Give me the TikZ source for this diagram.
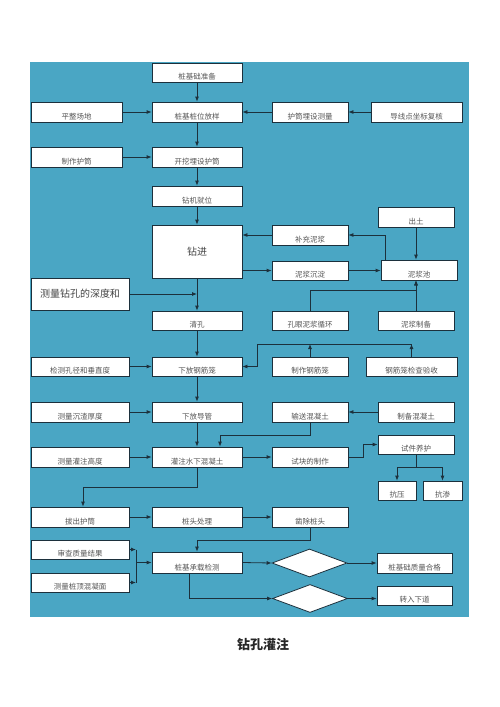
\documentclass[tikz,border=0pt]{standalone}
\usepackage{fontspec}
\newfontfamily\cjk{Noto Sans CJK SC}
\usetikzlibrary{shapes.geometric,arrows.meta,calc}
\definecolor{bg}{RGB}{74,166,196}
\definecolor{lnc}{RGB}{28,48,60}
\definecolor{tx}{RGB}{85,85,85}
\tikzset{
 box/.style={draw=lnc, fill=white, line width=0.8pt, inner sep=0pt, rectangle},
 lbl/.style={font=\cjk\fontsize{7.5}{8}\selectfont, text=tx, inner sep=0pt, anchor=base},
 big/.style={font=\cjk\fontsize{10}{12}\selectfont, text=tx!80!black, inner sep=0pt},
 arr/.style={draw=lnc, line width=0.8pt, -{Latex[length=5pt,width=4pt]}},
 wire/.style={draw=lnc, line width=0.8pt},
 dia/.style={draw=lnc, fill=white, line width=0.8pt, diamond, inner sep=0pt, minimum width=75pt, minimum height=28pt}
}
\newcommand\bx[6]{%
 \node[box, minimum width={(#4-#2)*1pt}, minimum height={(#5-#3)*1pt}] (#1) at ({(#2+#4)/2},{(#3+#5)/2}) {};
 \node[lbl] (#1t) at ([yshift=3pt]#1.south) {#6};
}
\begin{document}
\begin{tikzpicture}[x=1pt,y=-1pt]
\useasboundingbox (0,0) rectangle (500,707);
\fill[white] (0,0) rectangle (500,707);
\fill[bg] (30,62) rectangle (469,617);

\bx{a1}{152}{63}{242}{82}{桩基础准备}
\bx{a2}{152}{102}{242}{122}{桩基桩位放样}
\bx{l2}{31}{102}{122}{122}{平整场地}
\bx{r2}{272}{102}{348}{122}{护筒埋设测量}
\bx{r2b}{371}{102}{462}{122}{导线点坐标复核}
\bx{a3}{152}{147}{242}{167}{开挖埋设护筒}
\bx{l3}{31}{147}{122}{167}{制作护筒}
\bx{a4}{152}{186}{242}{206}{钻机就位}
\node[box, minimum width=90pt, minimum height=53pt] (zj) at (197,251.5) {};
\node[big] (zjt) at (zj.center) {钻进};
\bx{bc}{272}{225}{348}{245}{补充泥浆}
\bx{cd}{272}{261}{348}{280}{泥浆沉淀}
\bx{ct}{378}{207}{454}{227}{出土}
\bx{nc}{381}{260}{457}{280}{泥浆池}
\bx{kn}{272}{311}{348}{330}{孔眼泥浆循环}
\bx{nz}{378}{311}{454}{330}{泥浆制备}
\node[box, minimum width=98pt, minimum height=32pt] (cl) at (80,294) {};
\node[big] (clt) at (cl.center) {测量钻孔的深度和};
\bx{qk}{152}{311}{242}{330}{清孔}
\bx{gj}{152}{357}{242}{376}{下放钢筋笼}
\bx{l5}{31}{357}{129}{376}{检测孔径和垂直度}
\bx{zg}{272}{357}{348}{376}{制作钢筋笼}
\bx{ys}{366}{357}{457}{376}{钢筋笼检查验收}
\bx{dg}{152}{402}{242}{422}{下放导管}
\bx{l6}{31}{402}{129}{422}{测量沉渣厚度}
\bx{jc}{272}{402}{348}{422}{输送混凝土}
\bx{zb}{378}{402}{454}{422}{制备混凝土}
\bx{gz}{152}{447}{242}{467}{灌注水下混凝土}
\bx{l7}{31}{447}{129}{467}{测量灌注高度}
\bx{sk}{272}{447}{348}{467}{试块的制作}
\bx{yh}{378}{435}{454}{454}{试件养护}
\bx{ky}{378}{481}{416}{500}{抗压}
\bx{ks}{423}{481}{462}{500}{抗渗}
\bx{bh}{31}{507}{129}{527}{拔出护筒}
\bx{zt}{152}{507}{242}{527}{桩头处理}
\bx{zc}{272}{507}{348}{527}{凿除桩头}
\bx{b1}{31}{540}{129}{559}{审查质量结果}
\bx{b2}{31}{573}{129}{592}{测量桩顶混凝面}
\bx{jt}{152}{552}{242}{573}{桩基承载检测}
\node[dia] (d1) at (309.5,563) {};
\node[dia] (d2) at (310,598.5) {};
\bx{hg}{377}{553}{452}{573}{桩基础质量合格}
\bx{zr}{377}{586}{452}{605}{转入下道}

\node[font=\cjk\bfseries\fontsize{13}{15}\selectfont, text=black!85] (title) at (263,645) {钻孔灌注};

% connectors
\draw[arr] (a1) -- (a2);
\draw[arr] (l2) -- (a2);
\draw[arr] (r2) -- (a2);
\draw[arr] (r2b) -- (r2);
\draw[arr] (a2) -- (a3);
\draw[arr] (l3) -- (a3);
\draw[arr] (a3) -- (a4);
\draw[arr] (a4) -- (zj);
\draw[arr] (bc.west) -- (zj.east |- bc.west);
\draw[arr] ([xshift=5pt]nc.north west) |- (bc.east);
\draw[arr] (zj.east |- cd.west) -- (cd.west);
\draw[arr] (cd) -- (cd -| nc.west);
\draw[arr] (ct.south) -- (ct.south |- nc.north);
\draw[arr] (kn.north) -- ++(0,-20) -| (ct.south |- nc.south);
\draw[arr] (nz.north) -- (nz.north |- nc.south);
\draw[arr] (zj) -- (qk);
\draw[arr] (cl.east) -- (zj.south |- cl.east);
\draw[arr] (qk) -- (gj);
\draw[arr] (l5) -- (gj);
\coordinate (j1) at (257,344);
\draw[arr] (zg.north) -- (zg.north |- j1);
\draw[arr] (ys.north) -- (ys.north |- j1);
\draw[arr] (ys.north |- j1) -- (j1) |- (gj.east);
\draw[arr] (gj) -- (dg);
\draw[arr] (l6) -- (dg);
\draw[arr] (dg) -- (gz);
\draw[arr] (zb) -- (jc);
\draw[arr] (jc.south) -- ++(0,13) -| ([xshift=23pt]gz.north);
\draw[arr] (l7) -- (gz);
\draw[arr] (gz) -- (sk);
\draw[arr] (sk.east) -- ++(15,0) |- (yh.west);
\draw[arr] (yh.south) -- ++(0,13) -| (ky.north);
\draw[arr] (yh.south) -- ++(0,13) -| (ks.north);
\draw[arr] (gz.south) -- ++(0,20) -| ([xshift=3pt]bh.north);
\draw[arr] (bh) -- (zt);
\draw[arr] (zt) -- (zc);
\draw[arr] (zc.south) -- ++(0,13) -| (jt.north);
\coordinate (br) at (136,0);
\draw[arr] (b1.east) -- (b1.east -| br);
\draw[arr] (b2.east) -- (b2.east -| br);
\draw[wire] (b1.east -| br) -- (b2.east -| br);
\draw[arr] (jt.west -| br) -- (jt.west);
\draw[arr] (jt.east) -- (d1.west);
\draw[arr] (d1.east) -- (d1.east -| hg.west);
\draw[arr] ([xshift=-8pt]jt.south) |- (d2.west);
\draw[arr] (d2.east) -- (d2.east -| zr.west);
\end{tikzpicture}
\end{document}
